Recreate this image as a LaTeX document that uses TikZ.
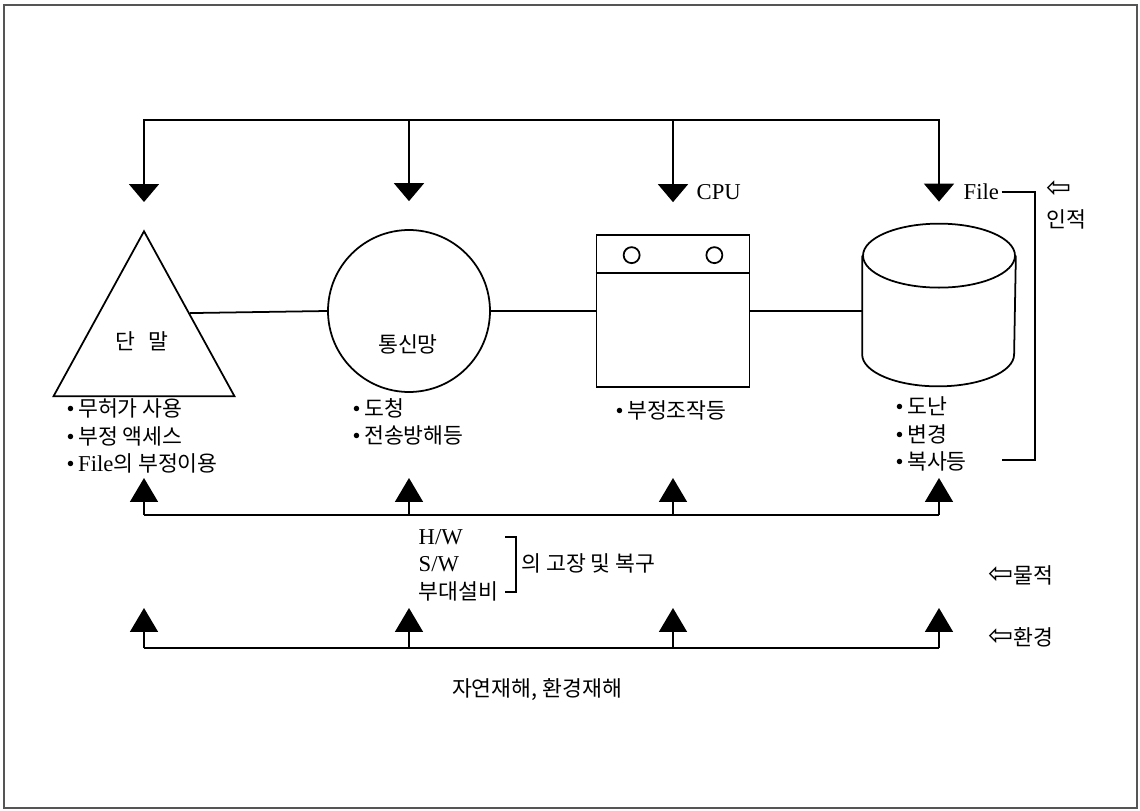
\documentclass[tikz,border=0pt]{standalone}
\usepackage{fontspec}
\setmainfont{Liberation Serif}[Scale=1.05]
\newfontfamily\krfont{Noto Sans CJK KR}
\newfontfamily\symfont{DejaVu Sans}
\usepackage{tikz}
\usetikzlibrary{arrows.meta,positioning,calc,shapes.geometric}
\definecolor{framegray}{HTML}{555555}
\newcommand{\bul}{{\rmfamily\textbullet}\,}
\newcommand{\warr}{{\symfont\fontsize{17}{17}\selectfont ⇦}}

\begin{document}
\begin{tikzpicture}[x=0.02cm, y=-0.02cm, line width=1pt,
  every node/.style={font=\krfont\fontsize{12.3}{15.6}\selectfont, inner sep=1pt},
  dnarrow/.style={-{Triangle[width=0.6cm,length=0.36cm]}},
  uparrow/.style={-{Triangle[width=0.56cm,length=0.48cm]}}]
  \useasboundingbox (0,0) rectangle (1140,811);
  \draw[framegray, line width=0.8pt] (4,5) rectangle (1137,808);

  % the four targets
  \node[draw, isosceles triangle, isosceles triangle stretches, shape border rotate=90, minimum width=3.62cm, minimum height=3.3cm, inner sep=0pt, anchor=apex] (term) at (144,229) {};
  \node (termlbl) at (142,341) {단\hspace{0.6em}말};
  \node[draw, circle, minimum size=3.24cm] (net) at (409,311) {};
  \node (netlbl) at (408,344) {통신망};
  \node[draw, minimum width=3.06cm, minimum height=3.04cm] (cpu) at (673,311) {};
  \draw ([yshift=-0.78cm]cpu.north west) -- ([yshift=-0.78cm]cpu.north east);
  \draw ([xshift=0.72cm,yshift=-0.42cm]cpu.north west) circle (0.16cm);
  \draw ([xshift=-0.72cm,yshift=-0.42cm]cpu.north east) circle (0.16cm);
  \node[minimum width=3.04cm, minimum height=3.22cm, inner sep=0pt] (file) at (939,305) {};
  \draw ([yshift=-0.64cm]file.north) ellipse [x radius=1.52cm, y radius=0.64cm];
  \draw ([yshift=-0.64cm]file.north west) -- ([yshift=0.64cm]file.south west)
    arc[start angle=180, end angle=360, x radius=1.52cm, y radius=0.64cm] -- ([yshift=-0.64cm]file.north east);

  \draw ($(term.apex)!.5!(term.right corner)$) -- (net.west);
  \draw (net.east) -- (cpu.west);
  \draw (cpu.east) -- (cpu.east -| file.west);

  % human threats
  \coordinate (top) at (0,120);
  \draw[dnarrow] (file.center |- top) -- (term.apex |- top) -- ([yshift=0.54cm]term.apex);
  \draw[dnarrow] (term.apex |- top) -- (file.center |- top) -- ([yshift=0.44cm]file.north);
  \draw[dnarrow] (net.north |- top) -- ([yshift=0.56cm]net.north);
  \draw[dnarrow] (cpu.north |- top) -- ([yshift=0.64cm]cpu.north);
  \node[anchor=west] (cpulbl) at (694,192) {\rmfamily CPU};
  \node[anchor=west] (filelbl) at (961,192) {\rmfamily File};
  \node[anchor=west] (humarr) at (1044,189) {\warr};
  \node (human) at (1066,219) {인적};

  \node[anchor=west, align=left] (termrisk) at (64,436) {\bul 무허가 사용\\ \bul 부정 액세스\\ \bul {\rmfamily File}의 부정이용};
  \node[anchor=west, align=left] (netrisk) at (350,422) {\bul 도청\\ \bul 전송방해등};
  \node[anchor=west] (cpurisk) at (613,410) {\bul 부정조작등};
  \node[anchor=west, align=left] (filerisk) at (893,434) {\bul 도난\\ \bul 변경\\ \bul 복사등};
  \coordinate (brk) at (1035,460);
  \coordinate (brkend) at (1002,460);
  \draw (filelbl.east) -| (brk) -- (brkend);

  % physical threats
  \coordinate (hwbus) at (0,515);
  \coordinate (hwtip) at (0,478);
  \draw (term.apex |- hwbus) -- (file.center |- hwbus);
  \foreach \n in {term.apex, net.center, cpu.center, file.center}
    \draw[uparrow] (\n |- hwbus) -- (\n |- hwtip);
  \node[anchor=west, align=left] (hw) at (416,565) {{\rmfamily H/W}\\ {\rmfamily S/W}\\ 부대설비};
  \draw (505,537) -| (516,592) -- (505,592);
  \node[anchor=west] (fail) at (519,563) {의 고장 및 복구};
  \node[anchor=west] (phys) at (986,575) {\warr 물적};

  % environmental threats
  \coordinate (envbus) at (0,648);
  \coordinate (envtip) at (0,608);
  \draw (term.apex |- envbus) -- (file.center |- envbus);
  \foreach \n in {term.apex, net.center, cpu.center, file.center}
    \draw[uparrow] (\n |- envbus) -- (\n |- envtip);
  \node[anchor=west] (env) at (986,637) {\warr 환경};
  \node (disaster) at (537,690) {자연재해, 환경재해};
\end{tikzpicture}
\end{document}
